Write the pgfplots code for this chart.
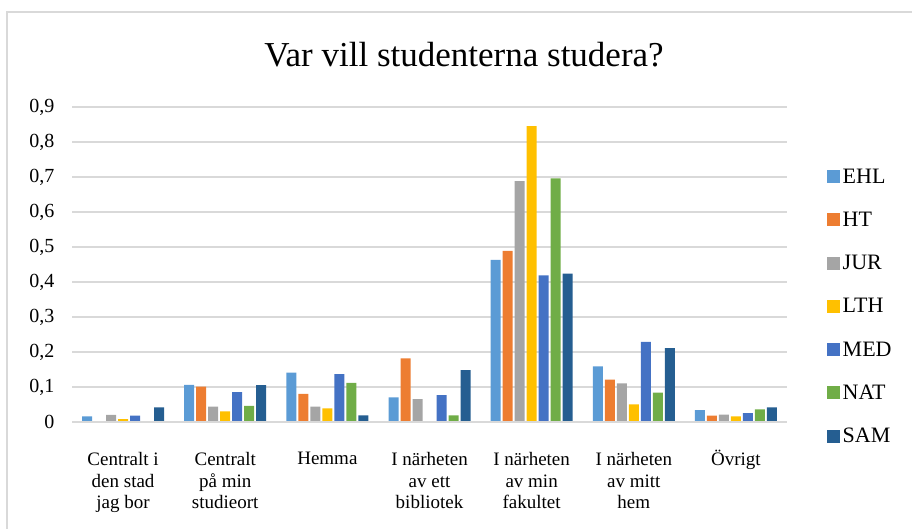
\documentclass[border=0pt]{standalone}
\usepackage{pgfplots}
\pgfplotsset{compat=1.18}
\usepackage{fontspec}
\setmainfont{Liberation Serif}
\definecolor{cEHL}{HTML}{5B9BD5}
\definecolor{cHT}{HTML}{ED7D31}
\definecolor{cJUR}{HTML}{A5A5A5}
\definecolor{cLTH}{HTML}{FFC000}
\definecolor{cMED}{HTML}{4472C4}
\definecolor{cNAT}{HTML}{70AD47}
\definecolor{cSAM}{HTML}{255E91}
\definecolor{gridc}{HTML}{D9D9D9}
\begin{document}
\begin{tikzpicture}[x=1bp,y=1bp]
\path[use as bounding box] (0,0) rectangle (912,529);
\draw[gridc,line width=1.2bp] (7,0) -- (7,517) -- (912,517);
\node[font=\fontsize{35bp}{40bp}\selectfont,anchor=base] at (464,462) {Var vill studenterna studera?};
\begin{axis}[
  at={(72bp,107bp)}, anchor=south west,
  scale only axis, width=715bp, height=315bp,
  ybar=2bp, bar width=10bp,
  xmin=-0.5, xmax=6.5, ymin=0, ymax=0.9,
  xtick={0,...,6},
  xticklabels={{Centralt i\\den stad\\jag bor},{Centralt\\på min\\studieort},{Hemma},{I närheten\\av ett\\bibliotek},{I närheten\\av min\\fakultet},{I närheten\\av mitt\\hem},{\smash{Ö}vrigt\vphantom{H}}},
  xticklabel style={align=center,font=\fontsize{19bp}{21.5bp}\selectfont,anchor=north,yshift=-27bp},
  ytick={0,0.1,...,0.9},
  yticklabel style={font=\fontsize{20bp}{22bp}\selectfont,xshift=-14bp},
  /pgf/number format/assume math mode=true,
  /pgf/number format/use comma,
  /pgf/number format/fixed,
  /pgf/number format/precision=1,
  major tick length=0pt,
  axis line style={draw=none},
  ymajorgrids, grid style={gridc,line width=1.2bp},
  axis x line*=bottom,
  legend style={at={(1,0.5)},anchor=west,xshift=40bp,yshift=-42bp,draw=none,fill=none,
    font=\fontsize{22bp}{23bp}\selectfont,row sep=22.3bp,inner sep=0pt,nodes={inner sep=2.5bp}},
  legend cell align=left,
  legend image code/.code={\fill[#1] (0bp,-6.5bp) rectangle (13bp,6.5bp);},
  every axis plot/.append style={draw=none},
]
\addplot[fill=cEHL] coordinates {(0,0.016) (1,0.106) (2,0.141) (3,0.070) (4,0.463) (5,0.159) (6,0.034)};
\addplot[fill=cHT] coordinates {(0,0) (1,0.101) (2,0.080) (3,0.182) (4,0.489) (5,0.121) (6,0.018)};
\addplot[fill=cJUR] coordinates {(0,0.020) (1,0.044) (2,0.044) (3,0.065) (4,0.688) (5,0.110) (6,0.021)};
\addplot[fill=cLTH] coordinates {(0,0.008) (1,0.030) (2,0.039) (3,0) (4,0.845) (5,0.050) (6,0.016)};
\addplot[fill=cMED] coordinates {(0,0.018) (1,0.085) (2,0.137) (3,0.077) (4,0.419) (5,0.229) (6,0.025)};
\addplot[fill=cNAT] coordinates {(0,0) (1,0.046) (2,0.112) (3,0.019) (4,0.696) (5,0.084) (6,0.036)};
\addplot[fill=cSAM] coordinates {(0,0.042) (1,0.105) (2,0.019) (3,0.148) (4,0.424) (5,0.211) (6,0.042)};
\legend{EHL,HT,JUR,LTH,MED,NAT,SAM}
\draw[gridc,line width=1.2bp] (axis cs:-0.5,0) -- (axis cs:6.5,0);
\end{axis}
\end{tikzpicture}
\end{document}
